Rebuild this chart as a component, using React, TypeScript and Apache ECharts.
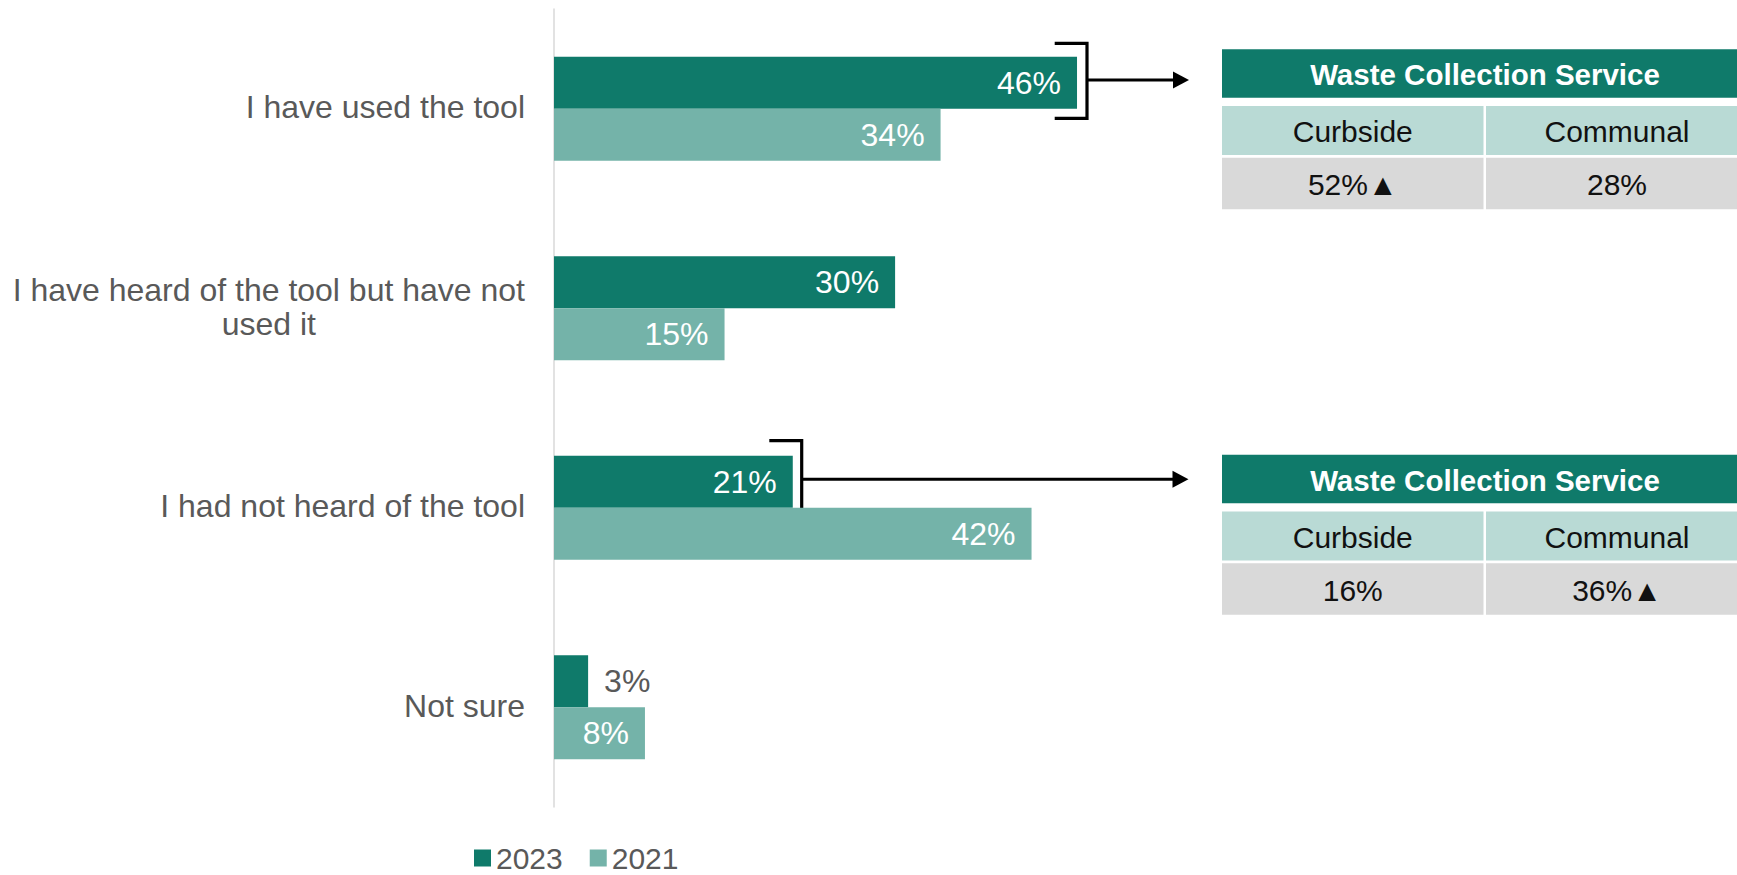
import React, { useEffect, useRef } from "react";
import * as echarts from "echarts";

const categories = [
  "I have used the tool",
  "I have heard of the tool but have not\nused it",
  "I had not heard of the tool",
  "Not sure",
];
const seriesNames = ["2023", "2021"];
const values2023 = [46, 30, 21, 3];
const values2021 = [34, 15, 42, 8];

const tableTitle = "Waste Collection Service";
const tableColumns = ["Curbside", "Communal"];
const table1Values = ["52%▲", "28%"];
const table2Values = ["16%", "36%▲"];

const DARK = "#0F7A6A";
const LIGHT = "#74B3A9";
const SUB = "#B9DAD5";
const GREYROW = "#D9D9D9";
const TEXT_GREY = "#595959";
const FONT = "'Liberation Sans', Arial, Helvetica, sans-serif";

function makeTable(top: number, values: string[]) {
  const left = 1222;
  const colW = [261.5, 262];
  const colX = [left, left + colW[0] + 2.5];
  const headerH = 48.4;
  const subTop = top + 56.7;
  const subH = 49;
  const valTop = top + 108.4;
  const valH = 51.6;
  const totalW = colX[1] + colW[1] - left;
  const els: any[] = [
    { type: "rect", shape: { x: left, y: top, width: totalW, height: headerH }, style: { fill: DARK } },
    {
      type: "text",
      x: left + totalW / 2,
      y: top + headerH / 2 + 1,
      style: { text: tableTitle, fill: "#fff", font: `bold 29.5px ${FONT}`, align: "center", verticalAlign: "middle" },
    },
  ];
  for (let i = 0; i < 2; i++) {
    els.push({ type: "rect", shape: { x: colX[i], y: subTop, width: colW[i], height: subH }, style: { fill: SUB } });
    els.push({ type: "rect", shape: { x: colX[i], y: valTop, width: colW[i], height: valH }, style: { fill: GREYROW } });
    els.push({
      type: "text",
      x: colX[i] + colW[i] / 2,
      y: subTop + subH / 2 + 1,
      style: { text: tableColumns[i], fill: "#111", font: `30px ${FONT}`, align: "center", verticalAlign: "middle" },
    });
    els.push({
      type: "text",
      x: colX[i] + colW[i] / 2,
      y: valTop + valH / 2 + 1,
      style: { text: values[i], fill: "#111", font: `30px ${FONT}`, align: "center", verticalAlign: "middle" },
    });
  }
  return els;
}

function makeBracket(armLeft: number, x: number, top: number, bottom: number, arrowY: number, tipX: number) {
  return [
    {
      type: "polyline",
      shape: { points: [[armLeft, top], [x, top], [x, bottom], [armLeft, bottom]] },
      style: { stroke: "#000", lineWidth: 3.2, fill: null },
    },
    { type: "line", shape: { x1: x, y1: arrowY, x2: tipX - 12, y2: arrowY }, style: { stroke: "#000", lineWidth: 3 } },
    {
      type: "polygon",
      shape: { points: [[tipX - 16, arrowY - 8.5], [tipX, arrowY], [tipX - 16, arrowY + 8.5]] },
      style: { fill: "#000" },
    },
  ];
}

const valueLabel = {
  show: true,
  position: "insideRight",
  distance: 16,
  color: "#fff",
  fontSize: 32,
  fontFamily: FONT,
  formatter: "{c}%",
};

function toData(vals: number[]) {
  return vals.map((v) =>
    v < 5 ? { value: v, label: { position: "right", color: TEXT_GREY } } : v
  );
}

export default function App() {
  const ref = useRef<HTMLDivElement>(null);
  useEffect(() => {
    if (!ref.current) return;
    const chart = echarts.init(ref.current, null, { renderer: "svg" });
    chart.setOption({
      animation: false,
      backgroundColor: "#fff",
      textStyle: { fontFamily: FONT },
      grid: { left: 554, top: 9, width: 1137, height: 798, containLabel: false },
      legend: {
        data: seriesNames,
        left: 474,
        top: 843,
        padding: 0,
        icon: "rect",
        itemWidth: 17,
        itemHeight: 17,
        itemGap: 27,
        textStyle: { fontSize: 30, lineHeight: 26, color: TEXT_GREY, fontFamily: FONT },
      },
      xAxis: { type: "value", min: 0, max: 100, show: false },
      yAxis: {
        type: "category",
        inverse: true,
        data: categories,
        axisLine: { show: true, lineStyle: { color: "#D9D9D9", width: 1.5 } },
        axisTick: { show: false },
        splitLine: { show: false },
        axisLabel: {
          margin: 29,
          formatter: (v: string) => v.split("\n").map((l) => `{c|${l}}`).join("\n"),
          rich: {
            c: { align: "center", fontSize: 32, lineHeight: 34, color: TEXT_GREY, fontFamily: FONT, padding: [0, 0, 3, 0] },
          },
        },
      },
      series: [
        {
          name: seriesNames[0],
          type: "bar",
          barWidth: 52,
          barGap: "0%",
          itemStyle: { color: DARK },
          label: valueLabel,
          data: toData(values2023),
        },
        {
          name: seriesNames[1],
          type: "bar",
          barWidth: 52,
          barGap: "0%",
          itemStyle: { color: LIGHT },
          label: valueLabel,
          data: toData(values2021),
        },
      ],
      graphic: [
        ...makeBracket(1054.7, 1087, 43.3, 118.3, 80, 1189),
        ...makeBracket(769.3, 801.7, 440.7, 517.3, 479.3, 1188.5),
        ...makeTable(49.3, table1Values),
        ...makeTable(454.8, table2Values),
      ],
    });
    return () => chart.dispose();
  }, []);
  return (
    <div
      ref={ref}
      style={{ position: "absolute", left: 0, top: 0, width: 1737, height: 875 }}
    />
  );
}
